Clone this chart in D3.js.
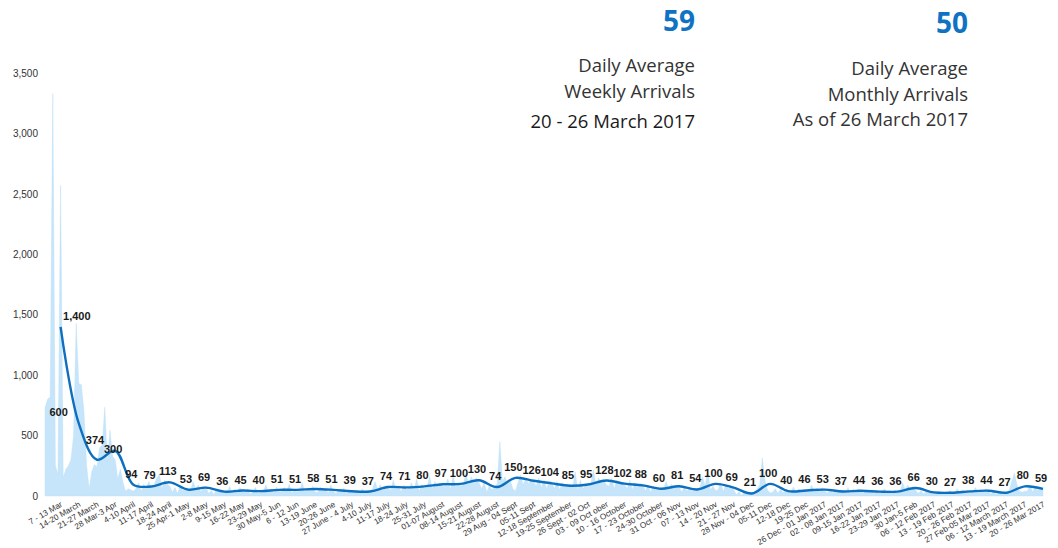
<!DOCTYPE html>
<html><head><meta charset="utf-8">
<script src="https://cdn.jsdelivr.net/npm/d3@7"></script>
<style>body{margin:0;background:#fff}svg{display:block}</style>
</head><body><svg id="c" width="1058" height="548"></svg>
<script>
// ---- data ----
const weekLabels = ["7 - 13 Mar","14-20 March","21-27 March","28 Mar-3 Apr","4-10 April","11-17 April","18-24 April","25 Apr-1 May","2-8 May","9-15 May","16-22 May","23-29 May","30 May-5 Jun","6 - 12 Jun","13-19 June","20-26 June","27 June - 4 July","4-10 July","11-17 July","18-24 July","25-31 July","01-07 August","08-14 August","15-21 August","22-28 August","29 Aug - 04 Sept","05-11  Sept","12-18 September","19-25 September","26 Sept - 02 Oct","03 - 09 Oct ober","10 - 16 October","17 - 23 October","24-30 October","31 Oct - 06 Nov","07 - 13 Nov","14 - 20 Nov","21 - 27 Nov","28 Nov - 04 Dec","05-11 Dec","12-18 Dec","19-25 Dec","26 Dec - 01 Jan 2017","02 - 08 Jan 2017","09-15 Jan 2017","16-22 Jan 2017","23-29 Jan 2017","30 Jan-5 Feb","06 - 12 Feb 2017","13 - 19 Feb 2017","20 - 26 Feb 2017","27 Feb-05 Mar 2017","06 - 12 March 2017","13 - 19 March 2017","20 - 26 Mar 2017"];
const weeklyLabelValues = [600,1400,374,300,94,79,113,53,69,36,45,40,51,51,58,51,39,37,74,71,80,97,100,130,74,150,126,104,85,95,128,102,88,60,81,54,100,69,21,100,40,46,53,37,44,36,36,66,30,27,38,44,27,80,59];
const weeklyLine = [1400,600,300,374,94,79,113,53,69,36,45,40,51,51,58,51,39,37,74,71,80,97,100,130,74,150,126,104,85,95,128,102,88,60,81,54,100,69,21,100,40,46,53,37,44,36,36,66,30,27,38,44,27,80,59];
const dailyArrivals = [
730,800,820,3330,250,180,2570,
150,220,250,300,500,1430,930,
920,700,250,60,200,260,240,
400,420,735,280,545,330,300,
140,220,110,40,60,50,40,
60,110,40,95,70,120,58,
90,150,180,60,130,100,81,
30,70,20,85,45,60,61,
40,120,55,90,30,80,68,
20,45,10,60,30,50,37,
25,80,30,55,20,70,35,
30,60,15,45,70,20,40,
40,90,30,60,25,75,37,
35,70,45,100,20,55,32,
50,110,30,65,40,80,31,
30,75,45,60,20,90,37,
20,55,30,65,15,45,43,
25,50,15,60,30,45,34,
60,120,50,95,40,85,68,
45,130,60,80,35,90,57,
60,110,50,140,40,95,65,
70,160,60,120,80,110,79,
80,140,50,170,70,110,80,
100,190,90,160,110,150,110,
60,110,30,90,50,80,98,
450,120,160,90,130,60,40,
110,170,90,150,100,140,122,
80,150,70,130,60,120,118,
60,120,50,110,70,90,95,
70,200,40,130,60,90,75,
100,215,90,150,110,140,91,
80,150,60,130,90,110,94,
60,130,50,110,70,100,96,
40,90,30,80,50,70,60,
60,120,50,100,70,90,77,
30,80,40,70,35,60,63,
70,160,80,215,50,80,45,
50,110,40,90,60,80,53,
10,35,5,30,15,25,27,
30,60,90,315,130,50,25,
30,60,20,55,25,50,40,
30,75,25,60,35,55,42,
40,90,30,65,35,70,41,
20,60,25,45,30,50,29,
30,70,20,55,35,60,38,
20,55,25,50,15,45,42,
25,60,20,45,30,50,22,
40,110,50,90,45,80,47,
20,45,15,40,25,35,30,
15,40,20,35,10,45,24,
25,60,20,50,30,45,36,
30,70,25,55,35,60,33,
15,40,10,35,20,45,24,
50,120,190,90,40,30,40,
40,90,30,80,45,70,58];
const yTicks = [0,500,1000,1500,2000,2500,3000,3500];
const startDate = new Date(2016,2,7);
const endDate = new Date(2017,2,26);

const kpis = [
  {value:"59", lines:["Daily Average","Weekly Arrivals","20 - 26 March 2017"]},
  {value:"50", lines:["Daily Average","Monthly Arrivals","As of 26 March 2017"]}
];

// ---- chart ----
const svg = d3.select("#c");
const x = d3.scaleTime().domain([startDate,endDate]).range([45,1043]);
const y = d3.scaleLinear().domain([0,3500]).range([496,73]);

const daily = dailyArrivals.map((v,i)=>({date:d3.timeDay.offset(startDate,i), v}));
const weeks = weekLabels.map((lab,i)=>({label:lab, date:d3.timeDay.offset(startDate,7*i+6), v:weeklyLine[i], lv:weeklyLabelValues[i]}));

svg.append("path").datum(daily)
  .attr("fill","#c6e5fa").attr("stroke","#b5ddf8").attr("stroke-width",0.4)
  .attr("d", d3.area().x(d=>x(d.date)).y0(y(0)).y1(d=>y(d.v)));

svg.append("path").datum(weeks)
  .attr("fill","none").attr("stroke","#0c6fbf").attr("stroke-width",2.4)
  .attr("d", d3.line().x(d=>x(d.date)).y(d=>y(d.v)).curve(d3.curveCatmullRom.alpha(0.5)));

const fmt = d3.format(",");
svg.append("g").selectAll("text").data(weeks).join("text")
  .attr("x", d=>x(d.date)-2).attr("y", d=>y(d.lv)-7)
  .attr("text-anchor","middle")
  .attr("font-family","Liberation Sans, Arial, sans-serif")
  .attr("font-size",11).attr("font-weight","bold").attr("fill","#1a1a1a")
  .text(d=>fmt(d.lv));

// y axis
const ya = svg.append("g").attr("transform","translate(41,0)")
  .call(d3.axisLeft(y).tickValues(yTicks).tickFormat(fmt).tickSize(0).tickPadding(3));
ya.select(".domain").remove();
ya.selectAll("text").attr("font-family","Liberation Sans, Arial, sans-serif").attr("font-size",10).attr("fill","#333");

// x axis
const xa = svg.append("g").attr("transform","translate(0,501)")
  .call(d3.axisBottom(x).tickValues(weeks.map(d=>d.date)).tickFormat((d,i)=>weekLabels[i]).tickSize(0).tickPadding(0));
xa.select(".domain").remove();
xa.selectAll("text")
  .attr("font-family","Liberation Sans, Arial, sans-serif").attr("font-size",8.2).attr("fill","#333")
  .attr("text-anchor","end").attr("dy","0.7em").attr("y",0)
  .attr("transform","translate(-1,0) rotate(-30)");

// KPI blocks
const kx = [695, 968];
const ky = [{v:31, l:[72,98,128]}, {v:33, l:[75,101,126]}];
kpis.forEach((k,i)=>{
  const g = svg.append("g").attr("font-family","Open Sans, sans-serif").attr("text-anchor","end");
  g.append("text").attr("x",kx[i]).attr("y",ky[i].v).attr("font-size",28).attr("font-weight",700).attr("fill","#0f72c3").text(k.value);
  k.lines.forEach((t,j)=>{
    g.append("text").attr("x",kx[i]).attr("y",ky[i].l[j]).attr("font-size",18.5).attr("fill", (i===0&&j===2)?"#1a1a1a":"#333").text(t);
  });
});
</script></body></html>
